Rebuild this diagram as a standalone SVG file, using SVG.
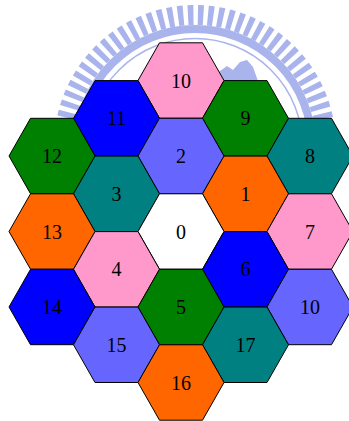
<svg xmlns="http://www.w3.org/2000/svg" width="349" height="421" viewBox="0 0 349 421">
<style>
.hex{stroke:#000;stroke-width:1;stroke-linejoin:miter}
.lbl{font-family:"Liberation Serif","Times New Roman",serif;font-size:20px;fill:#000;text-anchor:middle}
.pink{fill:#FF99CC}.blue{fill:#0000FF}.green{fill:#008000}.teal{fill:#008080}.peri{fill:#6666FF}.orange{fill:#FF6600}.white{fill:#FFFFFF}
.wm{fill:none;stroke:#A9B3EC}
</style>
<defs>
<polygon id="hx" points="-43,0 -21.5,-37.7 21.5,-37.7 43,0 21.5,37.7 -21.5,37.7"/>
<filter id="soft" x="-10%" y="-10%" width="120%" height="120%"><feGaussianBlur stdDeviation="0.7"/></filter>
</defs>
<rect width="349" height="421" fill="#fff"/>
<g id="watermark" filter="url(#soft)">
<circle class="wm" cx="195" cy="146" r="131" stroke-width="20" stroke-dasharray="5.5 4.5"/>
<circle class="wm" cx="195" cy="146" r="117" stroke-width="8"/>
<circle class="wm" cx="195" cy="146" r="107.5" stroke-width="1.5"/>
<polygon points="213,81 220,71 227,66 233,70 240,62 247,60 253,67 258,81" fill="#A9B3EC"/>
</g>
<g id="connectors"/>
<g id="n10a" transform="translate(181,80.5)"><use href="#hx" class="hex pink"/><text class="lbl" y="7">10</text></g>
<g id="n11" transform="translate(116.5,118.3)"><use href="#hx" class="hex blue"/><text class="lbl" y="7">11</text></g>
<g id="n9" transform="translate(245.5,118.3)"><use href="#hx" class="hex green"/><text class="lbl" y="7">9</text></g>
<g id="n12" transform="translate(52,156)"><use href="#hx" class="hex green"/><text class="lbl" y="7">12</text></g>
<g id="n2" transform="translate(181,156)"><use href="#hx" class="hex peri"/><text class="lbl" y="7">2</text></g>
<g id="n8" transform="translate(310,156)"><use href="#hx" class="hex teal"/><text class="lbl" y="7">8</text></g>
<g id="n3" transform="translate(116.5,193.8)"><use href="#hx" class="hex teal"/><text class="lbl" y="7">3</text></g>
<g id="n1" transform="translate(245.5,193.8)"><use href="#hx" class="hex orange"/><text class="lbl" y="7">1</text></g>
<g id="n13" transform="translate(52,231.5)"><use href="#hx" class="hex orange"/><text class="lbl" y="7">13</text></g>
<g id="n0" transform="translate(181,231.5)"><use href="#hx" class="hex white"/><text class="lbl" y="7">0</text></g>
<g id="n7" transform="translate(310,231.5)"><use href="#hx" class="hex pink"/><text class="lbl" y="7">7</text></g>
<g id="n4" transform="translate(116.5,269.3)"><use href="#hx" class="hex pink"/><text class="lbl" y="7">4</text></g>
<g id="n6" transform="translate(245.5,269.3)"><use href="#hx" class="hex blue"/><text class="lbl" y="7">6</text></g>
<g id="n14" transform="translate(52,307)"><use href="#hx" class="hex blue"/><text class="lbl" y="7">14</text></g>
<g id="n5" transform="translate(181,307)"><use href="#hx" class="hex green"/><text class="lbl" y="7">5</text></g>
<g id="n10b" transform="translate(310,307)"><use href="#hx" class="hex peri"/><text class="lbl" y="7">10</text></g>
<g id="n15" transform="translate(116.5,344.8)"><use href="#hx" class="hex peri"/><text class="lbl" y="7">15</text></g>
<g id="n17" transform="translate(245.5,344.8)"><use href="#hx" class="hex teal"/><text class="lbl" y="7">17</text></g>
<g id="n16" transform="translate(181,382.5)"><use href="#hx" class="hex orange"/><text class="lbl" y="7">16</text></g>
</svg>
